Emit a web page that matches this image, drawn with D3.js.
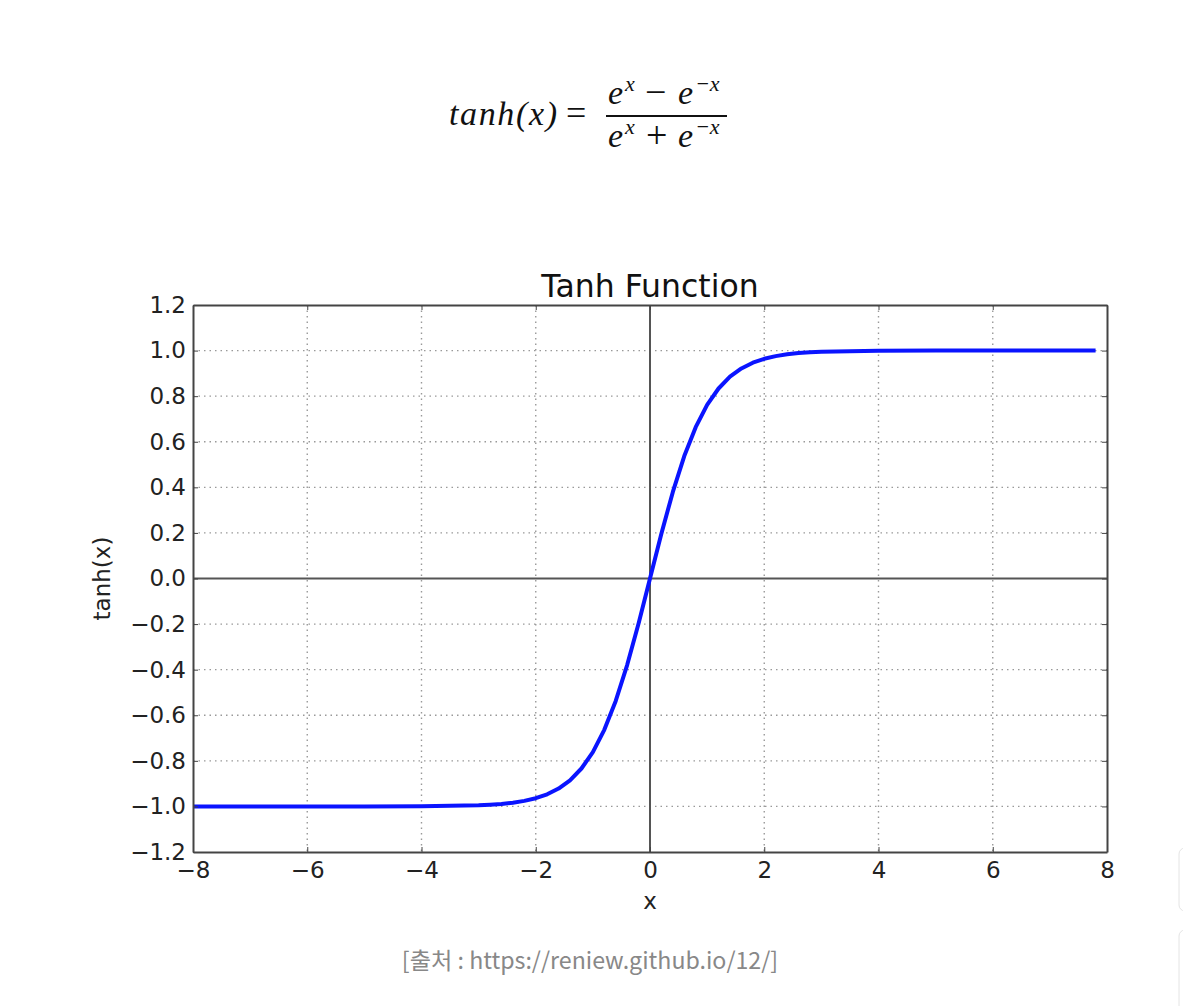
<!DOCTYPE html>
<html>
<head>
<meta charset="utf-8">
<script src="https://cdn.jsdelivr.net/npm/d3@7"></script>
<style>
  body { margin: 0; background: #fff; }
  svg { display: block; }
</style>
</head>
<body>
<div id="container"></div>
<script>
/* CONSTANTS AND GLOBALS */
const width = 1183,
  height = 1006,
  margin = { top: 305, bottom: 154, left: 193, right: 76 }

/* DATA */
const xValues = [-8, -7, -6, -5, -4, -3, -2.8, -2.6, -2.4, -2.2, -2, -1.8, -1.6, -1.4, -1.2, -1, -0.8, -0.6, -0.4, -0.2,
  0, 0.2, 0.4, 0.6, 0.8, 1, 1.2, 1.4, 1.6, 1.8, 2, 2.2, 2.4, 2.6, 2.8, 3, 4, 5, 6, 7, 7.8]
const yValues = [-1, -1, -1, -0.9999, -0.9993, -0.9951, -0.9926, -0.989, -0.9837, -0.9757, -0.964, -0.9468, -0.9217, -0.8854, -0.8337, -0.7616, -0.664, -0.537, -0.3799, -0.1974,
  0, 0.1974, 0.3799, 0.537, 0.664, 0.7616, 0.8337, 0.8854, 0.9217, 0.9468, 0.964, 0.9757, 0.9837, 0.989, 0.9926, 0.9951, 0.9993, 0.9999, 1, 1, 1]
const xTicks = [-8, -6, -4, -2, 0, 2, 4, 6, 8]
const yTicks = [-1.2, -1.0, -0.8, -0.6, -0.4, -0.2, 0.0, 0.2, 0.4, 0.6, 0.8, 1.0, 1.2]

const data = xValues.map((x, i) => ({ x: x, y: yValues[i] }))

// SCALES
const xScale = d3.scaleLinear()
  .domain([-8, 8])
  .range([margin.left, width - margin.right])

const yScale = d3.scaleLinear()
  .domain([-1.2, 1.2])
  .range([height - margin.bottom, margin.top])

// CREATE SVG ELEMENT
const svg = d3.select("#container")
  .append("svg")
  .attr("width", width)
  .attr("height", height)

// FORMULA
const serif = "'Liberation Serif', 'DejaVu Serif', serif"
const eq = svg.append("g").attr("font-family", serif).attr("fill", "#111")

const it = (x, y, size, txt) => eq.append("text").attr("x", x).attr("y", y)
  .attr("font-size", size).attr("font-style", "italic").text(txt)
const up = (x, y, size, txt) => eq.append("text").attr("x", x).attr("y", y)
  .attr("font-size", size).text(txt)

it(449, 125, 34, "tanh(x)").attr("textLength", 108).attr("lengthAdjust", "spacing")
up(566, 125, 36, "=")
// numerator
it(608, 104, 34, "e")
it(625, 91, 22, "x")
up(645, 105, 38, "−")
it(678, 104, 34, "e")
it(695, 91, 22, "−x")
// denominator
it(608, 147, 34, "e")
it(625, 134, 22, "x")
up(646, 148, 38, "+")
it(678, 147, 34, "e")
it(695, 134, 22, "−x")
eq.append("line").attr("x1", 606).attr("x2", 727).attr("y1", 116).attr("y2", 116)
  .attr("stroke", "#111").attr("stroke-width", 2)

const sans = "'DejaVu Sans', sans-serif"

// GRID
svg.append("g")
  .selectAll("line")
  .data(xTicks.filter(d => d !== 0 && d !== -8 && d !== 8))
  .join("line")
  .attr("x1", d => xScale(d)).attr("x2", d => xScale(d))
  .attr("y1", margin.top).attr("y2", height - margin.bottom)
  .attr("stroke", "#999").attr("stroke-width", 1.4).attr("stroke-dasharray", "1.5,4")

svg.append("g")
  .selectAll("line")
  .data(yTicks.filter(d => d !== 0 && Math.abs(d) !== 1.2))
  .join("line")
  .attr("x1", margin.left).attr("x2", width - margin.right)
  .attr("y1", d => yScale(d)).attr("y2", d => yScale(d))
  .attr("stroke", "#999").attr("stroke-width", 1.4).attr("stroke-dasharray", "1.5,4")

// ZERO LINES
svg.append("line")
  .attr("x1", xScale(0)).attr("x2", xScale(0))
  .attr("y1", margin.top).attr("y2", height - margin.bottom)
  .attr("stroke", "#555").attr("stroke-width", 2)
svg.append("line")
  .attr("x1", margin.left).attr("x2", width - margin.right)
  .attr("y1", yScale(0)).attr("y2", yScale(0))
  .attr("stroke", "#555").attr("stroke-width", 2)

// LINE
const line = d3.line()
  .x(d => xScale(d.x))
  .y(d => yScale(d.y))

svg.append("path")
  .datum(data)
  .attr("d", line)
  .attr("fill", "none")
  .attr("stroke", "#0a14ff")
  .attr("stroke-width", 4)
  .attr("stroke-linejoin", "round")

// AXES (ticks point inwards, like matplotlib classic)
const xAxis = svg.append("g")
  .attr("transform", `translate(0,${height - margin.bottom})`)
  .call(d3.axisBottom(xScale).tickValues(xTicks).tickFormat(d3.format("d")).tickSizeInner(-5).tickSizeOuter(0).tickPadding(8))
const xTop = svg.append("g")
  .attr("transform", `translate(0,${margin.top})`)
  .call(d3.axisTop(xScale).tickValues(xTicks).tickFormat("").tickSizeInner(-5).tickSizeOuter(0))
const yAxis = svg.append("g")
  .attr("transform", `translate(${margin.left},0)`)
  .call(d3.axisLeft(yScale).tickValues(yTicks).tickFormat(d3.format(".1f")).tickSizeInner(-5).tickSizeOuter(0).tickPadding(7))
const yRight = svg.append("g")
  .attr("transform", `translate(${width - margin.right},0)`)
  .call(d3.axisRight(yScale).tickValues(yTicks).tickFormat("").tickSizeInner(-5).tickSizeOuter(0))

;[xAxis, xTop, yAxis, yRight].forEach(g => {
  g.select(".domain").attr("stroke", "#444").attr("stroke-width", 2)
  g.selectAll(".tick line").attr("stroke", "#444").attr("stroke-width", 1)
  g.selectAll(".tick text").attr("font-family", sans).attr("font-size", 23).attr("fill", "#222")
})
xAxis.selectAll(".tick text").attr("dy", "0.8em")

// TITLE AND LABELS
svg.append("text")
  .attr("x", xScale(0)).attr("y", 297)
  .attr("text-anchor", "middle")
  .attr("font-family", sans).attr("font-size", 31.5).attr("fill", "#111")
  .text("Tanh Function")

svg.append("text")
  .attr("x", xScale(0)).attr("y", 909)
  .attr("text-anchor", "middle")
  .attr("font-family", sans).attr("font-size", 23).attr("fill", "#222")
  .text("x")

svg.append("text")
  .attr("transform", `translate(110,${yScale(0)}) rotate(-90)`)
  .attr("text-anchor", "middle")
  .attr("font-family", sans).attr("font-size", 23).attr("fill", "#222")
  .text("tanh(x)")

// SOURCE NOTE
svg.append("text")
  .attr("x", 590).attr("y", 969)
  .attr("text-anchor", "middle")
  .attr("font-family", "'Noto Sans CJK KR', 'Noto Sans', sans-serif").attr("font-size", 23.2).attr("fill", "#888")
  .text("[출처 : https://reniew.github.io/12/]")

// page widgets peeking in at right edge
svg.append("rect").attr("x", 1179).attr("y", 848).attr("width", 30).attr("height", 63).attr("rx", 6)
  .attr("fill", "#fff").attr("stroke", "#e4e4e4")
svg.append("rect").attr("x", 1179).attr("y", 930).attr("width", 30).attr("height", 90).attr("rx", 6)
  .attr("fill", "#fff").attr("stroke", "#e4e4e4")
</script>
</body>
</html>
